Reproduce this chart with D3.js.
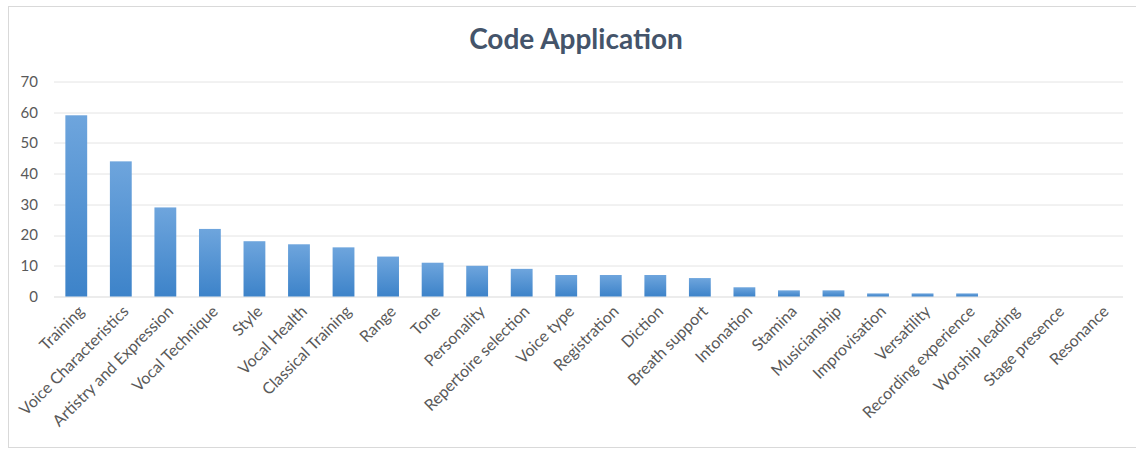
<!DOCTYPE html>
<html>
<head>
<meta charset="utf-8">
<script src="https://cdn.jsdelivr.net/npm/d3@7"></script>
<style>
  body { margin: 0; background: #fff; }
  .tick-label { font-family: Lato, "Open Sans", sans-serif; fill: #595959; }
</style>
</head>
<body>
<div id="chart-container"></div>
<script>
// data
const categories = ["Training", "Voice Characteristics", "Artistry and Expression", "Vocal Technique",
  "Style", "Vocal Health", "Classical Training", "Range", "Tone", "Personality",
  "Repertoire selection", "Voice type", "Registration", "Diction", "Breath support",
  "Intonation", "Stamina", "Musicianship", "Improvisation", "Versatility",
  "Recording experience", "Worship leading", "Stage presence", "Resonance"];
const counts = [59, 44, 29, 22, 18, 17, 16, 13, 11, 10, 9, 7, 7, 7, 6, 3, 2, 2, 1, 1, 1, 0, 0, 0];
const yTicks = [0, 10, 20, 30, 40, 50, 60, 70];
const chartTitle = "Code Application";

// dimensions
const width = 1136, height = 450;
const margin = {top: 81.5, right: 13, bottom: 153.5, left: 54};
const plot_w = width - margin.left - margin.right,
      plot_h = height - margin.top - margin.bottom;

const svg = d3.select("#chart-container")
  .append("svg")
    .attr("width", width)
    .attr("height", height);

// gradient for the bars (lighter top, darker bottom)
const defs = svg.append("defs");
const grad = defs.append("linearGradient")
    .attr("id", "barfill")
    .attr("x1", 0).attr("y1", 0).attr("x2", 0).attr("y2", 1);
grad.append("stop").attr("offset", "0%").attr("stop-color", "#6ea5dd");
grad.append("stop").attr("offset", "100%").attr("stop-color", "#3d83c9");

// chart frame
svg.append("rect")
    .attr("x", 8.5).attr("y", 6.5)
    .attr("width", 1140).attr("height", 441)
    .attr("fill", "none")
    .attr("stroke", "#d9d9d9");

const g = svg.append("g")
    .attr("transform", `translate(${margin.left}, ${margin.top})`);

const x = d3.scaleBand()
  .domain(categories)
  .range([0, plot_w])
  .paddingInner(0.51)
  .paddingOuter(0.255);

const y = d3.scaleLinear()
  .domain([0, 70])
  .range([plot_h, 0]);

// gridlines
g.selectAll(".grid")
  .data(yTicks)
  .join("line")
    .attr("class", "grid")
    .attr("x1", 0).attr("x2", plot_w)
    .attr("y1", d => Math.round(y(d)) + 0.5)
    .attr("y2", d => Math.round(y(d)) + 0.5)
    .attr("stroke", d => d === 0 ? "#d9d9d9" : "#e4e4e4")
    .attr("stroke-width", 1);

// y axis labels
const yAxis = g.append("g")
  .call(d3.axisLeft(y).tickValues(yTicks).tickSize(0).tickPadding(16));
yAxis.select(".domain").remove();
yAxis.selectAll("text")
    .attr("class", "tick-label")
    .style("font-size", "15px");

// bars
g.selectAll(".bar")
  .data(counts)
  .join("rect")
    .attr("class", "bar")
    .attr("x", (d, i) => x(categories[i]))
    .attr("y", d => y(d))
    .attr("width", x.bandwidth())
    .attr("height", d => plot_h - y(d))
    .attr("fill", "url(#barfill)");

// x axis labels, rotated
const xAxis = g.append("g")
    .attr("transform", `translate(0, ${plot_h})`)
  .call(d3.axisBottom(x).tickSize(0).tickPadding(0));
xAxis.select(".domain").remove();
xAxis.selectAll("text")
    .attr("class", "tick-label")
    .style("font-size", "16px")
    .attr("text-anchor", "end")
    .attr("dy", "0.35em")
    .attr("transform", "translate(5, 12) rotate(-45)");

// title
svg.append("text")
    .attr("x", 576)
    .attr("y", 49)
    .attr("text-anchor", "middle")
    .style("font-family", "Lato, 'Open Sans', sans-serif")
    .style("font-weight", "bold")
    .style("font-size", "28px")
    .attr("fill", "#44546a")
    .text(chartTitle);
</script>
</body>
</html>
